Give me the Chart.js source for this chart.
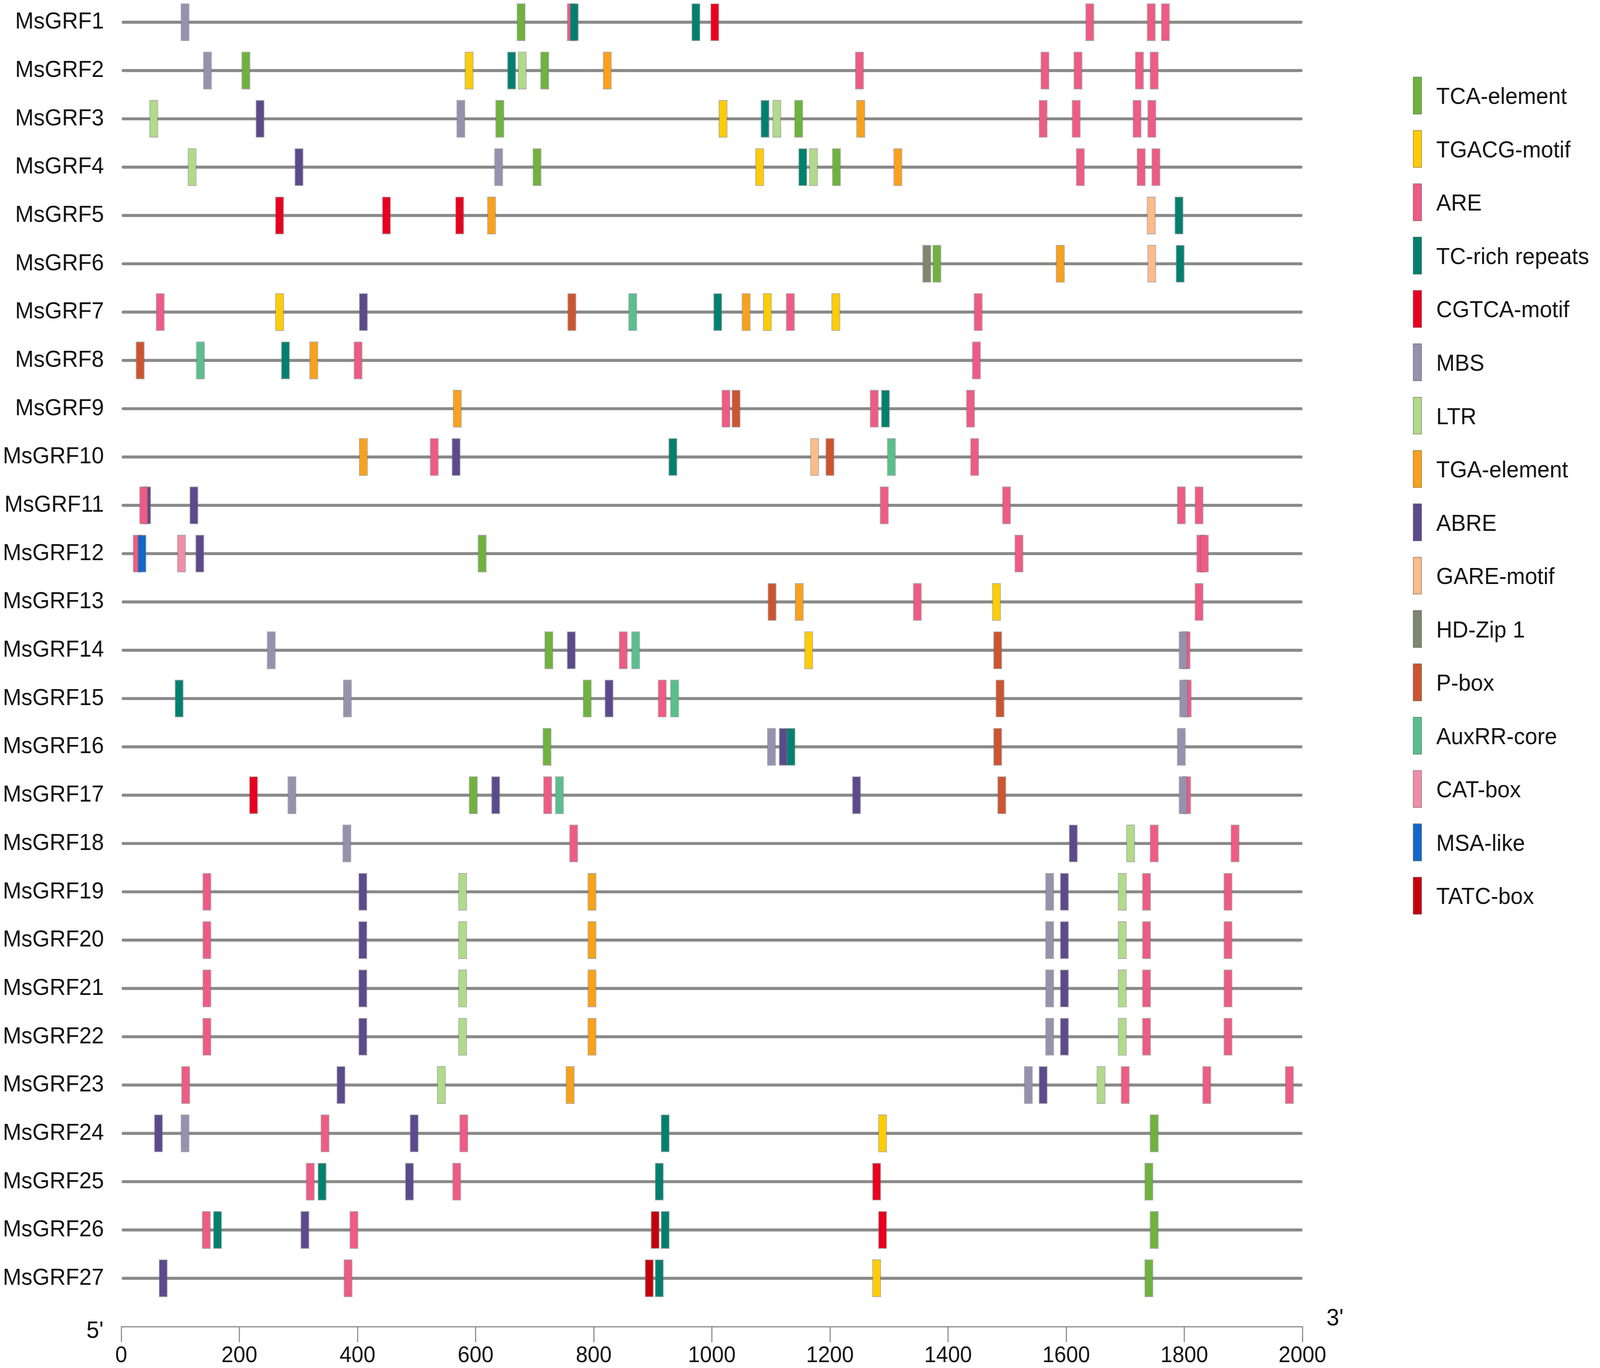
<!DOCTYPE html>
<html>
<head>
<meta charset="utf-8">
<script src="https://cdn.jsdelivr.net/npm/chart.js@4.4.1/dist/chart.umd.min.js"></script>
<style>
html,body{margin:0;padding:0;background:#ffffff;overflow:hidden;}
#wrap{position:absolute;left:0;top:0;width:4328px;height:3502px;transform-origin:0 0;}
#c{display:block;}
</style>
</head>
<body>
<div id="wrap"><canvas id="c" width="4328" height="3502"></canvas></div>
<script>
// ---------------- DATA ----------------
const genes = ['MsGRF1','MsGRF2','MsGRF3','MsGRF4','MsGRF5','MsGRF6','MsGRF7','MsGRF8','MsGRF9',
  'MsGRF10','MsGRF11','MsGRF12','MsGRF13','MsGRF14','MsGRF15','MsGRF16','MsGRF17','MsGRF18',
  'MsGRF19','MsGRF20','MsGRF21','MsGRF22','MsGRF23','MsGRF24','MsGRF25','MsGRF26','MsGRF27'];
const promoterLength = [2000,2000,2000,2000,2000,2000,2000,2000,2000,2000,2000,2000,2000,2000,
  2000,2000,2000,2000,2000,2000,2000,2000,2000,2000,2000,2000,2000];
const xTicks = [0,200,400,600,800,1000,1200,1400,1600,1800,2000];

const elementTypes = ['TCA-element','TGACG-motif','ARE','TC-rich repeats','CGTCA-motif','MBS','LTR',
  'TGA-element','ABRE','GARE-motif','HD-Zip 1','P-box','AuxRR-core','CAT-box','MSA-like','TATC-box'];

// [gene number, position (bp)]
const tcaElement = [[1,677],[2,211],[2,717],[3,641],[3,1147],[4,704],[4,1211],[6,1381],[12,611],
  [14,724],[15,789],[16,721],[17,596],[24,1749],[25,1740],[26,1749],[27,1740]];
const tgacgMotif = [[2,589],[3,1019],[4,1081],[7,268],[7,1094],[7,1210],[13,1482],[14,1164],[24,1289],[27,1279]];
const are = [[1,762],[1,1640],[1,1744],[1,1768],[2,1250],[2,1564],[2,1620],[2,1724],[2,1749],
  [3,1561],[3,1617],[3,1720],[3,1745],[4,1624],[4,1727],[4,1752],[7,66],[7,1133],[7,1451],
  [8,401],[8,1448],[9,1024],[9,1275],[9,1438],[10,530],[10,1445],[11,38],[11,1292],[11,1499],
  [11,1795],[11,1825],[12,27],[12,1520],[12,1828],[12,1834],[13,1348],[13,1825],[14,850],[14,1803],
  [15,916],[15,1805],[17,722],[17,1804],[18,766],[18,1749],[18,1886],
  [19,145],[19,1736],[19,1874],[20,145],[20,1736],[20,1874],[21,145],[21,1736],[21,1874],
  [22,145],[22,1736],[22,1874],[23,109],[23,1700],[23,1838],[23,1978],[24,345],[24,580],
  [25,320],[25,568],[26,144],[26,394],[27,384]];
const tcRichRepeats = [[1,767],[1,973],[2,661],[3,1090],[4,1154],[5,1791],[6,1793],[7,1010],[8,278],
  [9,1294],[10,934],[15,98],[16,1134],[24,921],[25,340],[25,911],[26,163],[26,921],[27,911]];
const cgtcaMotif = [[1,1005],[5,268],[5,449],[5,573],[17,224],[25,1279],[26,1289]];
const mbs = [[1,108],[2,146],[3,575],[4,639],[14,254],[14,1798],[15,383],[15,1799],[16,1101],[16,1795],
  [17,289],[17,1798],[18,382],[19,1572],[20,1572],[21,1572],[22,1572],[23,1536],[24,108]];
const ltr = [[2,679],[3,55],[3,1110],[4,120],[4,1172],[18,1709],[19,578],[19,1695],[20,578],[20,1695],
  [21,578],[21,1695],[22,578],[22,1695],[23,542],[23,1659]];
const tgaElement = [[2,823],[3,1252],[4,1315],[5,627],[6,1590],[7,1058],[8,326],[9,569],[10,410],[13,1148],
  [19,797],[20,797],[21,797],[22,797],[23,760]];
const abre = [[3,235],[4,301],[7,410],[10,567],[11,43],[11,123],[12,133],[14,762],[15,826],[16,1121],
  [17,634],[17,1245],[18,1612],[19,409],[19,1597],[20,409],[20,1597],[21,409],[21,1597],[22,409],[22,1597],
  [23,372],[23,1561],[24,63],[24,496],[25,488],[26,311],[27,71]];
const gareMotif = [[5,1744],[6,1745],[10,1174]];
const hdZip1 = [[6,1364]];
const pBox = [[7,763],[8,32],[9,1041],[10,1200],[13,1102],[14,1484],[15,1488],[16,1484],[17,1491]];
const auxrrCore = [[7,866],[8,134],[10,1304],[14,871],[15,937],[17,742]];
const catBox = [[12,102]];
const msaLike = [[12,35]];
const tatcBox = [[26,904],[27,894]];

const elementData = [tcaElement,tgacgMotif,are,tcRichRepeats,cgtcaMotif,mbs,ltr,tgaElement,abre,
  gareMotif,hdZip1,pBox,auxrrCore,catBox,msaLike,tatcBox];

// ---------------- STYLE ----------------
const colors = ['#6fb23e','#fccc06','#ee5b84','#00806f','#e8001e','#9691ad','#b1da8a','#f8a11b',
  '#5c4a8c','#fbbb8a','#7e8770','#cc5530','#59bf8c','#ef8ea9','#1466c9','#c3000e'];
// stacking of overlapping boxes (lower = drawn later, on top)
const drawOrder = [0,-1,-2,-3,-4,-5,-6,-7,-1.5,-9,-10,-11,-12,-13,-14,-15];
const FONT = '"Liberation Sans", Arial, Helvetica, sans-serif';
const ELEMENT_WIDTH = 14.5;   // bp
const BORDER = 'rgba(105,105,105,0.55)';

// fit the 4328 x 3502 drawing to whatever CSS viewport the browser gives
function fitWrap() {
  const sx = window.innerWidth / 4328, sy = window.innerHeight / 3502;
  document.getElementById('wrap').style.transform = 'scale(' + sx + ',' + sy + ')';
}
fitWrap();

const datasets = [{
  label: 'backbone', isBackbone: true,
  data: genes.map((g, i) => ({ y: i + 1, x: [0, promoterLength[i]] })),
  backgroundColor: '#898989', borderWidth: 0, barThickness: 7,
  borderRadius: 3.5, borderSkipped: false, order: 100
}];
elementTypes.forEach((name, i) => {
  datasets.push({
    label: name,
    data: elementData[i].map(([row, pos]) => ({ y: row, x: [pos - ELEMENT_WIDTH / 2, pos + ELEMENT_WIDTH / 2] })),
    backgroundColor: colors[i], borderColor: BORDER, borderWidth: 2,
    borderSkipped: false, barThickness: 96, order: drawOrder[i]
  });
});

const annotations = {
  id: 'annotations',
  afterDraw(chart) {
    const ctx = chart.ctx, ca = chart.chartArea;
    ctx.save();
    const items = chart.data.datasets.filter(d => !d.isBackbone);
    ctx.font = '60px ' + FONT;
    items.forEach((d, i) => {
      const cy = ca.top + 244.7 + i * 136.55;
      const bx = ca.right + 299;
      ctx.fillStyle = d.backgroundColor;
      ctx.fillRect(bx, cy - 48, 24, 96);
      ctx.strokeStyle = BORDER; ctx.lineWidth = 2;
      ctx.strokeRect(bx + 1, cy - 47, 22, 94);
      ctx.fillStyle = '#111111';
      ctx.textAlign = 'left'; ctx.textBaseline = 'alphabetic';
      ctx.fillText(d.label, bx + 63, cy + 21.5);
    });
    ctx.font = '62px ' + FONT;
    ctx.fillStyle = '#111111';
    ctx.textAlign = 'right';
    ctx.fillText("5'", ca.left - 48, ca.bottom + 29);
    ctx.textAlign = 'left';
    ctx.fillText("3'", ca.right + 65, ca.bottom - 3);
    ctx.restore();
  }
};

new Chart(document.getElementById('c'), {
  type: 'bar',
  data: { datasets },
  plugins: [annotations],
  options: {
    indexAxis: 'y',
    responsive: false,
    maintainAspectRatio: false,
    animation: false,
    devicePixelRatio: 1,
    events: [],
    layout: { padding: { left: 0, right: 805, top: 0, bottom: 0 } },
    datasets: { bar: { grouped: false } },
    plugins: { legend: { display: false }, tooltip: { enabled: false } },
    scales: {
      x: {
        type: 'linear', min: 0, max: 2000, offset: false,
        afterBuildTicks: s => { s.ticks = xTicks.map(v => ({ value: v })); },
        afterFit: s => { s.height = 106; s.paddingLeft = 0; s.paddingRight = 0; },
        grid: { drawOnChartArea: false, drawTicks: true, tickLength: 40, color: '#8c8c8c', lineWidth: 3, offset: false },
        border: { display: true, color: '#8c8c8c', width: 3 },
        ticks: { font: { family: FONT, size: 58 }, color: '#111111', padding: 0, maxRotation: 0,
          autoSkip: false, callback: v => String(v) }
      },
      y: {
        type: 'linear', reverse: true, min: 0.54, max: 28, offset: false,
        afterBuildTicks: s => { s.ticks = genes.map((g, i) => ({ value: i + 1 })); },
        afterFit: s => { s.width = 328; s.paddingTop = 0; s.paddingBottom = 0; },
        grid: { display: false, drawTicks: false, offset: false },
        border: { display: false },
        ticks: { font: { family: FONT, size: 60 }, color: '#111111', padding: 47, autoSkip: false,
          callback: v => genes[Math.round(v) - 1] || '' }
      }
    }
  }
});
</script>
</body>
</html>
